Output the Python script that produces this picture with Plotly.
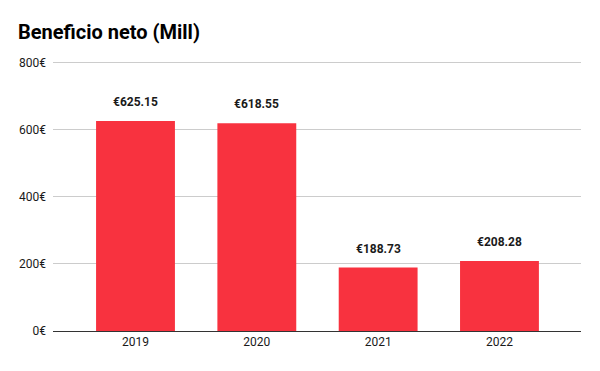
import plotly.graph_objects as go

years = ["2019", "2020", "2021", "2022"]
values = [625.15, 618.55, 188.73, 208.28]
labels = ["€625.15", "€618.55", "€188.73", "€208.28"]
tick_vals = [0, 200, 400, 600, 800]
tick_text = ["0€", "200€", "400€", "600€", "800€"]

fig = go.Figure()
fig.add_trace(go.Bar(
    x=list(range(len(years))), y=values,
    marker=dict(color="#F8323F", line=dict(width=0)),
    width=0.65, hoverinfo="skip",
))
for i, (v, t) in enumerate(zip(values, labels)):
    fig.add_annotation(x=i, y=v, text=f"<b>{t}</b>", showarrow=False,
                       yanchor="bottom", yshift=10,
                       font=dict(family="Roboto", size=12, color="#1a1a1a"))

fig.update_layout(
    width=600, height=371,
    margin=dict(l=53, r=19, t=59, b=40),
    paper_bgcolor="white", plot_bgcolor="white",
    showlegend=False,
    title=dict(text="<b>Beneficio neto (Mill)</b>", x=18/600, xanchor="left",
               y=1-32/371, yanchor="middle",
               font=dict(family="Roboto", size=20, color="#000000")),
    xaxis=dict(tickmode="array", tickvals=list(range(len(years))), ticktext=years,
               range=[-0.68, 3.672], showgrid=False, zeroline=False,
               showline=True, linecolor="#333333", linewidth=1,
               ticks="", tickfont=dict(family="Roboto", size=12, color="#1a1a1a")),
    yaxis=dict(range=[0, 810], tickvals=tick_vals, ticktext=tick_text,
               showgrid=True, gridcolor="#CCCCCC", gridwidth=1,
               zeroline=False, ticks="", ticklabelstandoff=6,
               tickfont=dict(family="Roboto", size=12, color="#1a1a1a")),
)
fig.write_html("out.html", config={"displayModeBar": False})

with open("out.html", "r", encoding="utf-8") as f:
    html = f.read()
html = html.replace("<body>", '<body style="margin:0;padding:0;">', 1)
with open("out.html", "w", encoding="utf-8") as f:
    f.write(html)
